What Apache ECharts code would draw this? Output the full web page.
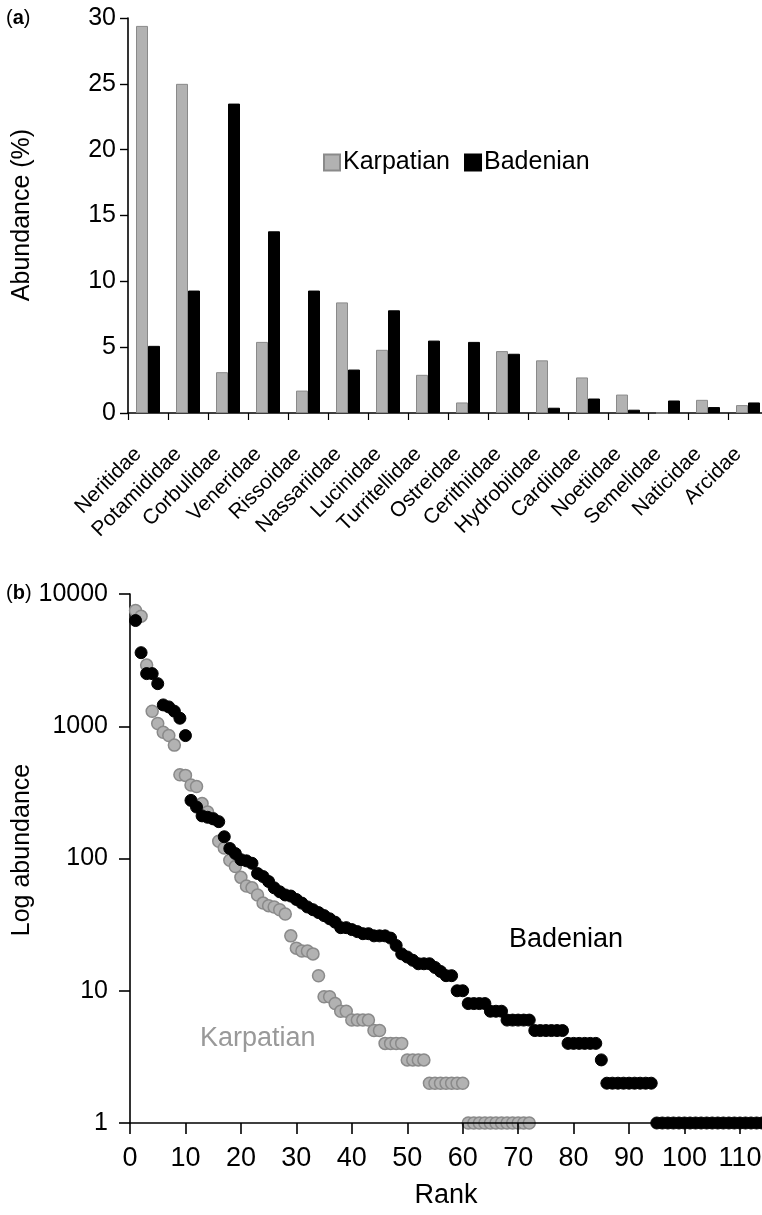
<!DOCTYPE html>
<html>
<head>
<meta charset="utf-8">
<script src="https://cdn.jsdelivr.net/npm/echarts@6/dist/echarts.min.js"></script>
<style>
html,body{margin:0;padding:0;background:#fff;overflow:hidden;}
#c{width:800px;height:1215px;}
</style>
</head>
<body>
<div id="c"></div>
<script>
// ---- Panel (a): family abundance (%) ----
const families = ['Neritidae','Potamididae','Corbulidae','Veneridae','Rissoidae','Nassariidae','Lucinidae','Turritellidae','Ostreidae','Cerithiidae','Hydrobiidae','Cardiidae','Noetiidae','Semelidae','Naticidae','Arcidae'];
const karpatianPct = [29.4, 25.0, 3.1, 5.4, 1.7, 8.4, 4.8, 2.9, 0.8, 4.7, 4.0, 2.7, 1.4, 0, 1.0, 0.6];
const badenianPct  = [5.1, 9.3, 23.5, 13.8, 9.3, 3.3, 7.8, 5.5, 5.4, 4.5, 0.4, 1.1, 0.25, 0.95, 0.45, 0.8];
const pctTicks = [0, 5, 10, 15, 20, 25, 30];

// ---- Panel (b): rank-abundance (rank = position + 1) ----
const karpatianAbund = [7500, 6800, 2900, 1300, 1050, 900, 850, 720, 430, 425,
  360, 350, 260, 225, 200, 135, 120, 97, 87, 72,
  62, 60, 53, 46, 44, 43, 41, 38, 26, 21,
  20, 20, 19, 13, 9, 9, 8, 7, 7, 6,
  6, 6, 6, 5, 5, 4, 4, 4, 4, 3,
  3, 3, 3, 2, 2, 2, 2, 2, 2, 2,
  1, 1, 1, 1, 1, 1, 1, 1, 1, 1, 1, 1];
const badenianAbund = [6300, 3600, 2500, 2500, 2100, 1450, 1400, 1300, 1150, 850,
  275, 245, 210, 205, 200, 190, 146, 119, 109, 98,
  96, 92, 77, 73, 67, 60, 56, 53, 52, 49,
  46, 43, 41, 39, 37, 35, 33, 30, 30, 29,
  28, 27, 27, 26, 26, 26, 25, 22, 19, 18,
  17, 16, 16, 16, 15, 14, 13, 13, 10, 10,
  8, 8, 8, 8, 7, 7, 7, 6, 6, 6,
  6, 6, 5, 5, 5, 5, 5, 5, 4, 4,
  4, 4, 4, 4, 3, 2, 2, 2, 2, 2,
  2, 2, 2, 2, 1, 1, 1, 1, 1, 1,
  1, 1, 1, 1, 1, 1, 1, 1, 1, 1,
  1, 1, 1, 1];
const rankTicks = [0, 10, 20, 30, 40, 50, 60, 70, 80, 90, 100, 110];
const logTicks = [1, 10, 100, 1000, 10000];

const FONT = '"Liberation Sans", Arial, sans-serif';
const GRAY = '#b2b2b2', GRAY_EDGE = '#8a8a8a', BLACK = '#000';

const toPts = arr => arr.map((v, i) => [i + 1, v]);

const chart = echarts.init(document.getElementById('c'), null, {renderer: 'canvas'});
const axisLine = {show: true, lineStyle: {color: '#000', width: 1.6}};

chart.setOption({
  backgroundColor: '#fff',
  animation: false,
  textStyle: {fontFamily: FONT},
  grid: [
    {left: 128, top: 18, width: 640, height: 395},
    {left: 130, top: 594, width: 665.4, height: 529}
  ],
  legend: {
    data: ['Karpatian', 'Badenian'],
    left: 318, top: 145,
    itemWidth: 16, itemHeight: 16, itemGap: 14,
    icon: 'rect',
    textStyle: {fontSize: 25, color: '#000', fontFamily: FONT, padding: [0, 0, 0, -2]}
  },
  xAxis: [
    {
      gridIndex: 0, type: 'category', data: families,
      axisLine: axisLine,
      axisTick: {show: true, length: 7, lineStyle: {color: '#000', width: 1.2}},
      axisLabel: {rotate: 45, interval: 0, fontSize: 21, color: '#000', margin: 28,
        padding: [0, 14, 0, 0], fontFamily: FONT},
      splitLine: {show: false}
    },
    {
      gridIndex: 1, type: 'value', min: 0, max: 120, interval: 10, z: 5,
      axisLine: axisLine,
      axisTick: {show: true, length: 11, lineStyle: {color: '#000', width: 1.6}},
      axisLabel: {fontSize: 27, color: '#000', margin: 22, fontFamily: FONT,
        formatter: v => rankTicks.includes(v) ? String(v) : ''},
      splitLine: {show: false}
    }
  ],
  yAxis: [
    {
      gridIndex: 0, type: 'value', min: pctTicks[0], max: pctTicks[pctTicks.length - 1], interval: 5,
      axisLine: axisLine,
      axisTick: {show: true, length: 8, lineStyle: {color: '#000', width: 1.4}},
      axisLabel: {fontSize: 25, color: '#000', margin: 12, fontFamily: FONT},
      splitLine: {show: false}
    },
    {
      gridIndex: 1, type: 'log', logBase: 10, min: logTicks[0], max: logTicks[logTicks.length - 1],
      axisLine: axisLine,
      axisTick: {show: true, length: 11, lineStyle: {color: '#000', width: 1.6}},
      axisLabel: {fontSize: 25, color: '#000', margin: 22, fontFamily: FONT,
        formatter: v => String(Math.round(v))},
      minorTick: {show: false},
      splitLine: {show: false}
    }
  ],
  series: [
    {
      name: 'Karpatian', type: 'bar', xAxisIndex: 0, yAxisIndex: 0,
      data: karpatianPct, barWidth: 12, barGap: '0%',
      itemStyle: {color: GRAY, borderColor: GRAY_EDGE, borderWidth: 1}
    },
    {
      name: 'Badenian', type: 'bar', xAxisIndex: 0, yAxisIndex: 0,
      data: badenianPct, barWidth: 12, barGap: '0%',
      itemStyle: {color: BLACK, borderColor: BLACK, borderWidth: 1}
    },
    {
      name: 'Karpatian rank', type: 'scatter', xAxisIndex: 1, yAxisIndex: 1,
      data: toPts(karpatianAbund), symbolSize: 12, clip: false,
      itemStyle: {color: GRAY, borderColor: GRAY_EDGE, borderWidth: 1.5, opacity: 1}
    },
    {
      name: 'Badenian rank', type: 'scatter', xAxisIndex: 1, yAxisIndex: 1,
      data: toPts(badenianAbund), symbolSize: 12, clip: false,
      itemStyle: {color: BLACK, borderColor: BLACK, borderWidth: 1, opacity: 1}
    }
  ],
  graphic: [
    {type: 'text', left: 6, top: 8, style: {
      text: '{p|(}{b|a}{p|)}',
      rich: {p: {fontSize: 20, fontFamily: FONT, fill: '#000'}, b: {fontSize: 20, fontWeight: 'bold', fontFamily: FONT, fill: '#000'}}
    }},
    {type: 'text', left: 6, top: 583, style: {
      text: '{p|(}{b|b}{p|)}',
      rich: {p: {fontSize: 20, fontFamily: FONT, fill: '#000'}, b: {fontSize: 20, fontWeight: 'bold', fontFamily: FONT, fill: '#000'}}
    }},
    {type: 'text', x: 22, y: 215, rotation: Math.PI / 2, style: {
      text: 'Abundance (%)', fontSize: 25, fontFamily: FONT, fill: '#000', align: 'center', verticalAlign: 'middle'
    }},
    {type: 'text', x: 22, y: 850, rotation: Math.PI / 2, style: {
      text: 'Log abundance', fontSize: 25, fontFamily: FONT, fill: '#000', align: 'center', verticalAlign: 'middle'
    }},
    {type: 'text', x: 446, y: 1196, style: {
      text: 'Rank', fontSize: 27, fontFamily: FONT, fill: '#000', align: 'center', verticalAlign: 'middle'
    }},
    {type: 'text', x: 509, y: 940, style: {
      text: 'Badenian', fontSize: 27, fontFamily: FONT, fill: '#000', align: 'left', verticalAlign: 'middle'
    }},
    {type: 'text', x: 200, y: 1039, style: {
      text: 'Karpatian', fontSize: 27, fontFamily: FONT, fill: '#999', align: 'left', verticalAlign: 'middle'
    }}
  ]
});
</script>
</body>
</html>
